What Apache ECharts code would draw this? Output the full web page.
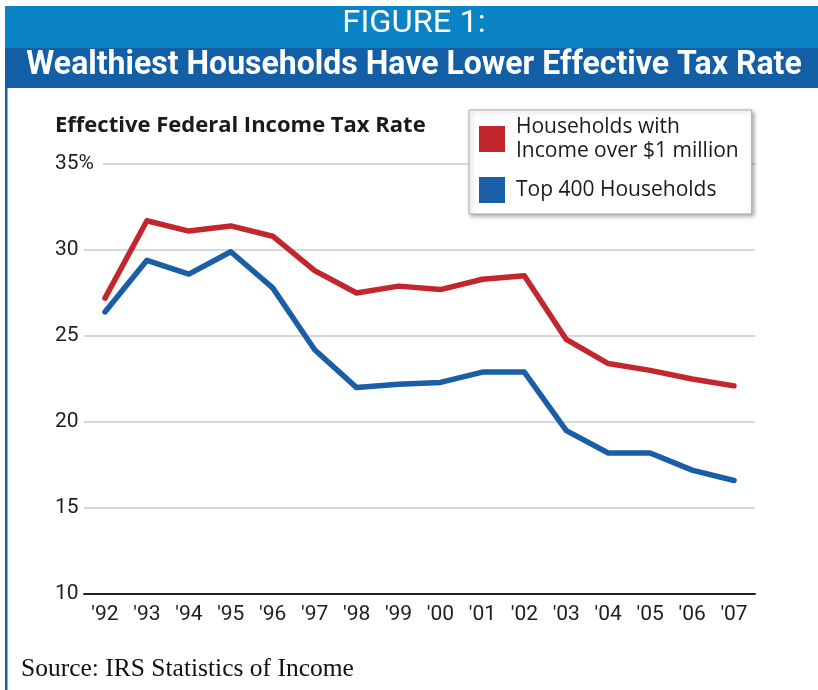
<!DOCTYPE html>
<html>
<head>
<meta charset="utf-8">
<script src="https://cdn.jsdelivr.net/npm/echarts@6/dist/echarts.min.js"></script>
<style>
html,body{margin:0;padding:0;background:#fff;}
#c{width:818px;height:690px;}
</style>
</head>
<body>
<div id="c"></div>
<script>
var years = ["'92","'93","'94","'95","'96","'97","'98","'99","'00","'01","'02","'03","'04","'05","'06","'07"];
var millionaires = [27.2,31.7,31.1,31.4,30.8,28.8,27.5,27.9,27.7,28.3,28.5,24.8,23.4,23.0,22.5,22.1];
var top400 = [26.4,29.4,28.6,29.9,27.8,24.2,22.0,22.2,22.3,22.9,22.9,19.5,18.2,18.2,17.2,16.6];
var seriesNames = ["Households with\nIncome over $1 million","Top 400 Households"];
var yTicks = {min:10,max:35,interval:5};

var narrow = "Roboto,sans-serif";
var chart = echarts.init(document.getElementById('c'));
chart.setOption({
  animation:false,
  backgroundColor:'#fff',
  graphic:[
    {type:'rect',left:5,top:6,shape:{width:813,height:42},style:{fill:'#0a84c4'},z:-1},
    {type:'rect',left:5,top:48,shape:{width:813,height:40},style:{fill:'#135fa5'},z:-1},
    {type:'rect',left:5,top:88,shape:{width:2.5,height:602},style:{fill:'#135fa5'},z:-1},
    {type:'text',x:414,y:24,scaleX:1.02,style:{text:'FIGURE 1:',fill:'#fff',font:"32px Roboto",textAlign:'center',textVerticalAlign:'middle'}},
    {type:'text',x:414,y:66,scaleX:0.97,style:{text:'Wealthiest Households Have Lower Effective Tax Rate',fill:'#fff',font:"bold 33px Roboto",textAlign:'center',textVerticalAlign:'middle'}},
    {type:'text',x:21,y:669,style:{text:'Source: IRS Statistics of Income',fill:'#111',font:"25.5px 'Liberation Serif',serif",textVerticalAlign:'middle'}}
  ],
  title:{
    text:'Effective Federal Income Tax Rate',
    left:50,top:110,
    textStyle:{fontFamily:"'Open Sans',sans-serif",fontWeight:'bold',fontSize:22,color:'#1a1a1a'}
  },
  legend:{
    orient:'vertical',
    left:469,top:110,
    padding:[5,13,11,10],
    itemGap:14,
    itemWidth:26,itemHeight:26,
    icon:'rect',
    backgroundColor:'#fff',
    borderColor:'#a8a8a8',borderWidth:1,
    shadowColor:'rgba(0,0,0,0.3)',shadowBlur:4,shadowOffsetX:2,shadowOffsetY:2,
    textStyle:{fontFamily:"'Open Sans',sans-serif",fontSize:21,color:'#1a1a1a',lineHeight:24,padding:[0,0,0,6]},
    data:seriesNames
  },
  grid:{left:84,right:63,top:164,bottom:96},
  xAxis:{
    type:'category',data:years,boundaryGap:true,
    axisLine:{lineStyle:{color:'#222',width:2}},
    axisTick:{inside:true,length:10,alignWithLabel:true,lineStyle:{color:'#222',width:2}},
    axisLabel:{fontFamily:narrow,fontSize:21,color:'#1e1e1e',margin:10}
  },
  yAxis:{
    type:'value',min:yTicks.min,max:yTicks.max,interval:yTicks.interval,
    axisLine:{show:false},axisTick:{show:false},
    splitLine:{lineStyle:{color:'#c8ccd1',width:1.5}},
    axisLabel:{
      align:'left',margin:29,fontFamily:narrow,fontSize:21,color:'#1e1e1e',
      formatter:function(v){return v===35?'{a|35%}':String(v);},
      rich:{a:{fontFamily:narrow,fontSize:21,color:'#1e1e1e',backgroundColor:'#fff',padding:[0,9,0,0]}}
    }
  },
  series:[
    {name:seriesNames[0],type:'line',data:millionaires,symbol:'none',itemStyle:{color:'#c1272d'},lineStyle:{color:'#c1272d',width:5.5,cap:'round',join:'round'}},
    {name:seriesNames[1],type:'line',data:top400,symbol:'none',itemStyle:{color:'#1a5ea8'},lineStyle:{color:'#1a5ea8',width:5.5,cap:'round',join:'round'}}
  ]
});
</script>
</body>
</html>
